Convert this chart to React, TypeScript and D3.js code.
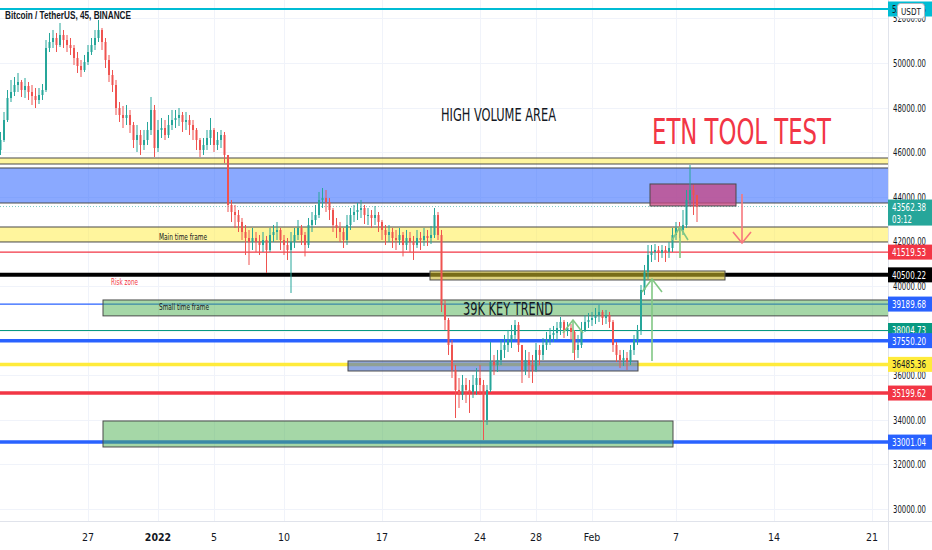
import * as d3 from "d3";

// 6h bars built from the 45m chart, open = previous close
const startTime = Date.UTC(2021, 11, 20, 18);
const barMs = 6 * 3600 * 1000;
const firstOpen = 46099;

const closes = [
  46547, 47444, 48431, 48700, 49013, 49148, 48789, 48969, 48700, 48520,
  48341, 48565, 48789, 50673, 50942, 51121, 50807, 51256, 51031, 50807,
  50673, 50224, 49866, 49686, 50045, 50493, 50807, 51121, 51480, 50942,
  50135, 49462, 49013, 47982, 47668, 47534, 47668, 47220, 46547, 46771,
  46323, 46547, 46996, 47893, 46189, 46996, 47085, 46771, 47220, 47444,
  47534, 47668, 47355, 47444, 47220, 46996, 46547, 46099, 46323, 46637,
  46996, 46323, 46547, 46771, 45875, 43633, 43319, 43184, 42870, 42422,
  42153, 41973, 42153, 41973, 41839, 42063, 41615, 42287, 42422, 42512,
  42063, 41839, 41615, 41973, 42287, 42601, 42287, 41839, 42736, 42960,
  43184, 43857, 43947, 43767, 43408, 42736, 42601, 42422, 42063, 42736,
  43184, 43319, 43408, 43498, 43184, 43184, 43050, 43184, 42870, 42512,
  42287, 42422, 42153, 42063, 42287, 41839, 42153, 41973, 41839, 42153,
  42063, 42243, 42153, 42287, 43184, 42287, 39149, 38476, 37355, 36234,
  35338, 35114, 35562, 35338, 35248, 35562, 35875, 35562, 33992, 35338,
  36593, 36458, 36682, 37131, 37355, 37579, 37804, 38252, 37355, 36234,
  36682, 36458, 36234, 37131, 36907, 37355, 37579, 37804, 37894, 38118,
  38387, 38028, 38118, 37938, 37131, 37355, 38028, 38387, 38476, 38566,
  38700, 38835, 38566, 38700, 38387, 37355, 36907, 36682, 36772, 36593,
  37131, 37579, 38028, 39821, 40629, 41391, 41525, 41615, 41480, 41615,
  41525, 41705, 42287, 42601, 42512, 42736, 43857, 44305, 44081, 43562.38,
];

const highs = [
  46906, 47803, 48789, 49238, 49372, 49552, 49238, 49328, 49148, 49013,
  48879, 48879, 49058, 51031, 51346, 51480, 51346, 51794, 51480, 51256,
  51121, 50807, 50493, 50135, 50359, 50807, 51121, 51480, 51928, 51570,
  51121, 50359, 49686, 49238, 48251, 48072, 48117, 47893, 47355, 47220,
  46996, 46996, 47355, 48476, 48117, 47444, 47534, 47444, 47668, 47893,
  47893, 47982, 47803, 47803, 47668, 47444, 47085, 46637, 46637, 46996,
  47534, 47085, 46906, 46996, 46906, 45875, 43857, 43633, 43408, 43050,
  42736, 42512, 42601, 42422, 42287, 42422, 42243, 42601, 42736, 42870,
  42601, 42287, 42153, 42422, 42601, 42960, 42736, 42422, 43050, 43319,
  43633, 44216, 44395, 44305, 43947, 43498, 43050, 42870, 42601, 43184,
  43498, 43633, 43722, 43857, 43633, 43498, 43408, 43588, 43319, 42960,
  42736, 42736, 42601, 42512, 42601, 42422, 42512, 42422, 42243, 42512,
  42422, 42601, 42512, 42691, 43498, 43319, 42512, 39373, 38566, 37579,
  36458, 35875, 36010, 35875, 35786, 36010, 36324, 36458, 35786, 35562,
  37490, 36907, 37131, 37579, 37804, 38028, 38252, 38476, 38387, 37355,
  37131, 37041, 36907, 37445, 37355, 37669, 37938, 38118, 38207, 38387,
  38611, 38476, 38387, 38297, 38028, 37804, 38387, 38700, 38790, 38835,
  39014, 39149, 38924, 38924, 38835, 38476, 37490, 37131, 37131, 37041,
  37355, 37804, 38252, 40046, 40942, 41839, 41839, 41884, 41794, 41839,
  41794, 41973, 42601, 42870, 42870, 43408, 44305, 45426, 44530, 44081,
];

const lows = [
  45875, 46458, 47355, 48251, 48520, 48700, 48476, 48431, 48341, 48117,
  47982, 48162, 48341, 48700, 50493, 50673, 50493, 50717, 50673, 50493,
  50359, 49910, 49552, 49373, 49597, 49910, 50359, 50583, 50942, 50583,
  49776, 49148, 48700, 47668, 47355, 47085, 47220, 46861, 46189, 46009,
  45875, 46099, 46323, 46771, 45785, 46009, 46637, 46547, 46637, 46996,
  47085, 47175, 46906, 46996, 46771, 46547, 46099, 45785, 45875, 46099,
  46323, 46009, 46099, 46189, 45516, 43319, 42870, 42601, 42422, 42063,
  41391, 40942, 41615, 41525, 41391, 41525, 40584, 41525, 41973, 42063,
  41615, 41391, 41167, 39687, 41705, 42063, 41839, 41326, 41705, 42422,
  42736, 43050, 43498, 43319, 42960, 42422, 42153, 41973, 41705, 41839,
  42512, 42870, 42960, 43050, 42780, 42736, 42601, 42736, 42422, 42063,
  41839, 41973, 41705, 41615, 41839, 41326, 41615, 41525, 41167, 41705,
  41615, 41794, 41794, 41884, 42153, 42063, 38835, 38028, 36907, 35875,
  34081, 34530, 34889, 34754, 34306, 34979, 35114, 35114, 33095, 33768,
  35248, 36010, 36144, 36458, 36772, 37041, 37221, 37579, 37041, 35651,
  36010, 35875, 35651, 36144, 36458, 36682, 37131, 37355, 37490, 37579,
  37804, 37669, 37759, 37579, 36682, 36772, 37221, 37938, 38118, 38207,
  38297, 38387, 38252, 38297, 38118, 37041, 36593, 36324, 36413, 36234,
  36458, 36907, 37355, 37804, 39597, 40315, 41077, 41167, 41077, 41257,
  41077, 41257, 41525, 42063, 42153, 42287, 42601, 43633, 43184, 42870,
];

const priceTicks = [30000, 32000, 34000, 36000, 38000, 40000, 42000, 44000, 46000, 48000, 50000, 52000];
const dateTicks = ["2021-12-27", "2022-01-01", "2022-01-05", "2022-01-10", "2022-01-17", "2022-01-24", "2022-01-28", "2022-02-01", "2022-02-07", "2022-02-14", "2022-02-21"];
const dateLabels = ["27", "2022", "5", "10", "17", "24", "28", "Feb", "7", "14", "21"];

// horizontal levels
const levelPrices = [52421.45, 41519.53, 40500.22, 39189.68, 38004.73, 37550.2, 36485.36, 35199.62, 33001.04];
const levelColors = ["#00bcd4", "#f23645", "#000000", "#2962ff", "#089981", "#2962ff", "#ffeb3b", "#f23645", "#2962ff"];
const levelWidths = [2, 1.2, 4, 1.2, 1.2, 3.5, 3.5, 3.5, 3.5];
const levelText = ["#131722", "#ffffff", "#ffffff", "#ffffff", "#ffffff", "#ffffff", "#131722", "#ffffff", "#ffffff"];

// rectangles (price range x time range)
const zoneTop = [45740, 45292, 42646, 40673, 39373, 36638, 33947, 44575];
const zoneBottom = [45471, 43722, 41974, 40270, 38660, 36189, 32781, 43588];
const zoneStart = ["2021-12-19", "2021-12-19", "2021-12-19", "2022-01-20T10:17Z", "2021-12-28T01:43Z", "2022-01-14T13:43Z", "2021-12-28T01:43Z", "2022-02-05T03:26Z"];
const zoneEnd = ["2022-03-01", "2022-03-01", "2022-03-01", "2022-02-10T12:00Z", "2022-03-01", "2022-02-04T06:51Z", "2022-02-06T18:51Z", "2022-02-11T06:51Z"];
const zoneFill = [
  "rgba(255,235,59,0.5)", "rgba(41,98,255,0.55)", "rgba(255,235,59,0.5)", "rgba(200,180,40,0.6)",
  "rgba(76,175,80,0.5)", "rgba(70,110,210,0.6)", "rgba(76,175,80,0.5)", "rgba(200,70,130,0.75)",
];

// arrows: time, from price, to price (tip)
const arrowTimes = ["2022-02-11T17:09Z", "2022-02-05T06:51Z", "2022-02-07T06:51Z", "2022-01-30T15:26Z"];
const arrowFrom = [44126, 36638, 41257, 36997];
const arrowTo = [41929, 40315, 42646, 38476];
const arrowColors = ["#f7777d", "#81c784", "#81c784", "#81c784"];
const arrowHead = [[9, 11], [10, 13], [8, 13], [10, 13]];

// text notes
const noteText = ["HIGH VOLUME AREA", "ETN TOOL TEST", "39K KEY TREND", "Main time frame", "Small time frame", "Risk zone"];
const noteTime = ["2022-01-21T05:09Z", "2022-02-05T06:51Z", "2022-01-22T18:51Z", "2022-01-01T01:43Z", "2022-01-01T01:43Z", "2021-12-28T15:26Z"];
const notePrice = [47399, 46368, 38701, 42063, 38924, 40046];
const noteSize = [17, 36, 18, 9, 9, 9];
const noteWidth = [115, 179, 90, 48, 50, 27];
const noteColor = ["#131722", "#f23645", "#131722", "#131722", "#131722", "#f23645"];

const lastPrice = 43562.38;

const W = 932;
const H = 550;
const plotRight = 888;
const axisY = 521;
const font = "'Liberation Sans Narrow', 'DejaVu Sans Condensed', sans-serif";
const labelW = 34;

export default function App() {
  const x = d3.scaleUtc()
    .domain([new Date(Date.UTC(2021, 11, 21)), new Date(Date.UTC(2022, 1, 21))])
    .range([4, 872]);
  const y = d3.scaleLinear().domain([30000, 50000]).range([509, 63]);

  const candles = closes.map((c, i) => {
    const o = i === 0 ? firstOpen : closes[i - 1];
    return {
      t: new Date(startTime + i * barMs),
      o,
      c,
      h: Math.max(highs[i], o, c),
      l: Math.min(lows[i], o, c),
    };
  });
  const bodyW = 2;

  return (
    <svg width={W} height={H} style={{ position: "absolute", left: 0, top: 0, fontFamily: font }}>
      <defs>
        <clipPath id="plot">
          <rect x={0} y={0} width={plotRight} height={axisY} />
        </clipPath>
      </defs>
      <rect width={W} height={H} fill="#ffffff" />

      {/* grid */}
      <g stroke="#f0f3fa" strokeWidth={1}>
        {dateTicks.map((d) => (
          <line key={d} x1={Math.round(x(new Date(d))) + 0.5} x2={Math.round(x(new Date(d))) + 0.5} y1={0} y2={axisY} />
        ))}
        {priceTicks.map((p) => (
          <line key={p} x1={0} x2={plotRight} y1={Math.round(y(p)) + 0.5} y2={Math.round(y(p)) + 0.5} />
        ))}
      </g>

      <g clipPath="url(#plot)">
        {/* levels */}
        {levelPrices.map((p, i) => (
          <line key={p} x1={0} x2={plotRight} y1={y(p)} y2={y(p)} stroke={levelColors[i]} strokeWidth={levelWidths[i]} />
        ))}
        <line x1={0} x2={plotRight} y1={y(lastPrice)} y2={y(lastPrice)} stroke="#26a69a" strokeOpacity={0.6} strokeDasharray="1 2" />

        {/* zones */}
        {zoneTop.map((top, i) => {
          const x0 = x(new Date(zoneStart[i]));
          const x1 = x(new Date(zoneEnd[i]));
          return (
            <rect key={i} x={x0} y={y(top)} width={x1 - x0} height={y(zoneBottom[i]) - y(top)}
              fill={zoneFill[i]} stroke="#4a4a4a" strokeWidth={1} />
          );
        })}

        {/* candles */}
        {candles.map((d, i) => {
          const cx = x(d.t);
          const up = d.c >= d.o;
          const col = up ? "#26a69a" : "#ef5350";
          const top = y(Math.max(d.o, d.c));
          const bh = Math.max(1, y(Math.min(d.o, d.c)) - top);
          return (
            <g key={i}>
              <line x1={cx} x2={cx} y1={y(d.h)} y2={y(d.l)} stroke={col} strokeWidth={1} />
              <rect x={cx - bodyW / 2} y={top} width={bodyW} height={bh} fill={col} />
            </g>
          );
        })}

        {/* arrows */}
        {arrowTimes.map((t, i) => {
          const ax = x(new Date(t));
          const y0 = y(arrowFrom[i]);
          const y1 = y(arrowTo[i]);
          const dir = y1 < y0 ? 1 : -1;
          const [hw, hh] = arrowHead[i];
          return (
            <g key={t} stroke={arrowColors[i]} strokeWidth={1.6} fill="none">
              <line x1={ax} x2={ax} y1={y0} y2={y1} />
              <polyline points={`${ax - hw},${y1 + dir * hh} ${ax},${y1} ${ax + hw},${y1 + dir * hh}`} />
            </g>
          );
        })}

        {/* notes */}
        {noteText.map((txt, i) => (
          <text key={txt} x={x(new Date(noteTime[i]))} y={y(notePrice[i])} fontSize={noteSize[i]}
            fill={noteColor[i]} textLength={noteWidth[i]} lengthAdjust="spacingAndGlyphs">
            {txt}
          </text>
        ))}
      </g>

      <text x={5} y={19} fontSize={11.5} fontWeight="bold" fill="#131722" textLength={126}
        lengthAdjust="spacingAndGlyphs" fontFamily="'Liberation Sans', sans-serif">
        Bitcoin / TetherUS, 45, BINANCE
      </text>

      {/* axes */}
      <line x1={plotRight + 0.5} x2={plotRight + 0.5} y1={0} y2={H} stroke="#e0e3eb" />
      <line x1={0} x2={W} y1={axisY + 0.5} y2={axisY + 0.5} stroke="#e0e3eb" />

      {priceTicks.map((p) => (
        <text key={p} x={893} y={y(p) + 4} fontSize={10.5} fill="#131722" textLength={33} lengthAdjust="spacingAndGlyphs">
          {p.toFixed(2)}
        </text>
      ))}
      {dateTicks.map((d, i) => (
        <text key={d} x={x(new Date(d))} y={541} fontSize={10.5} textAnchor="middle" fill="#131722"
          fontWeight={dateLabels[i] === "2022" ? "bold" : "normal"}>
          {dateLabels[i]}
        </text>
      ))}

      {/* price tags */}
      {levelPrices.map((p, i) => (
        <g key={p}>
          <rect x={plotRight} y={Math.max(0, y(p) - 7.5)} width={W - plotRight} height={15} fill={levelColors[i]} />
          <text x={892} y={Math.max(7.5, y(p)) + 4} fontSize={10.5} fill={levelText[i]} textLength={labelW}
            lengthAdjust="spacingAndGlyphs">
            {p.toFixed(2)}
          </text>
        </g>
      ))}
      <rect x={plotRight} y={y(lastPrice) - 7} width={W - plotRight} height={26} fill="#26a69a" />
      <text x={892} y={y(lastPrice) + 4} fontSize={10.5} fill="#ffffff" textLength={labelW} lengthAdjust="spacingAndGlyphs">
        {lastPrice.toFixed(2)}
      </text>
      <text x={892} y={y(lastPrice) + 16} fontSize={10.5} fill="#ffffff" textLength={20} lengthAdjust="spacingAndGlyphs">
        03:12
      </text>

      {/* currency badge */}
      <rect x={897.5} y={3.5} width={27} height={15} rx={3} fill="#ffffff" stroke="#b2b5be" />
      <text x={911} y={15} fontSize={9.5} textAnchor="middle" fill="#131722" textLength={20} lengthAdjust="spacingAndGlyphs">
        USDT
      </text>
    </svg>
  );
}
